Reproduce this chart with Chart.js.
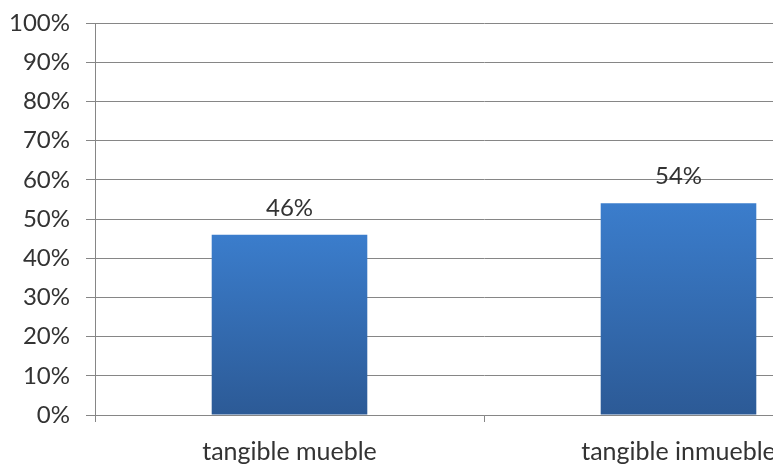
<!DOCTYPE html>
<html>
<head>
<meta charset="utf-8">
<script src="https://cdn.jsdelivr.net/npm/chart.js@4"></script>
<style>
    html, body { margin: 0; padding: 0; background: #fff; overflow: hidden; }
    #wrap { position: absolute; left: 0; top: 0; width: 880px; height: 480px; }
</style>
</head>
<body>
<div id="wrap"><canvas id="chart" width="880" height="480"></canvas></div>
<script>
// Chart data
const categories = ['tangible mueble', 'tangible inmueble'];
const shares = [0.46, 0.54];
const valueLabels = ['46%', '54%'];

const FONT = 'Lato, "Open Sans", sans-serif';
const TEXT = '#333333';
const GRID = '#868686';

// Vertical gradient per bar, from its top down to the baseline
function barGradient(ctx) {
    const chart = ctx.chart;
    const y = chart.scales.y;
    if (!chart.chartArea || !y || ctx.dataIndex === undefined) return '#3469b0';
    const top = y.getPixelForValue(shares[ctx.dataIndex]);
    const bottom = y.getPixelForValue(0);
    if (!isFinite(top) || !isFinite(bottom)) return '#3469b0';
    const g = chart.ctx.createLinearGradient(0, top, 0, bottom);
    g.addColorStop(0, '#3b7dcc');
    g.addColorStop(1, '#2c5a96');
    return g;
}

// Writes the value text above each bar
const valueLabelPlugin = {
    id: 'valueLabels',
    afterDatasetsDraw(chart) {
        const ctx = chart.ctx;
        const meta = chart.getDatasetMeta(0);
        ctx.save();
        ctx.font = '24px ' + FONT;
        ctx.fillStyle = TEXT;
        ctx.textAlign = 'center';
        ctx.textBaseline = 'alphabetic';
        meta.data.forEach((bar, i) => {
            ctx.fillText(valueLabels[i], bar.x, bar.y - 19);
        });
        ctx.restore();
    }
};

new Chart(document.getElementById('chart'), {
    type: 'bar',
    data: {
        labels: categories,
        datasets: [{
            data: shares,
            backgroundColor: barGradient,
            borderWidth: 0,
            categoryPercentage: 1,
            barPercentage: 0.4
        }]
    },
    options: {
        responsive: false,
        animation: false,
        events: [],
        layout: { padding: { top: 23, right: 7, bottom: 0, left: 0 } },
        plugins: {
            legend: { display: false },
            tooltip: { enabled: false }
        },
        scales: {
            x: {
                afterFit(scale) {
                    scale.height = 65;
                    scale.paddingLeft = 0;
                    scale.paddingRight = 0;
                },
                grid: {
                    drawOnChartArea: false,
                    drawTicks: true,
                    tickLength: 7,
                    color: GRID
                },
                border: { color: GRID, width: 1 },
                ticks: {
                    color: TEXT,
                    padding: 15,
                    maxRotation: 0,
                    font: { family: FONT, size: 25 }
                }
            },
            y: {
                min: 0,
                max: 1,
                afterFit(scale) {
                    scale.width = 95;
                    scale.paddingTop = 0;
                    scale.paddingBottom = 0;
                },
                grid: {
                    color: GRID,
                    tickLength: 9
                },
                border: { color: GRID, width: 1 },
                ticks: {
                    stepSize: 0.1,
                    color: TEXT,
                    padding: 16,
                    font: { family: FONT, size: 24 },
                    callback: v => Math.round(v * 100) + '%'
                }
            }
        }
    },
    plugins: [valueLabelPlugin]
});
</script>
</body>
</html>
